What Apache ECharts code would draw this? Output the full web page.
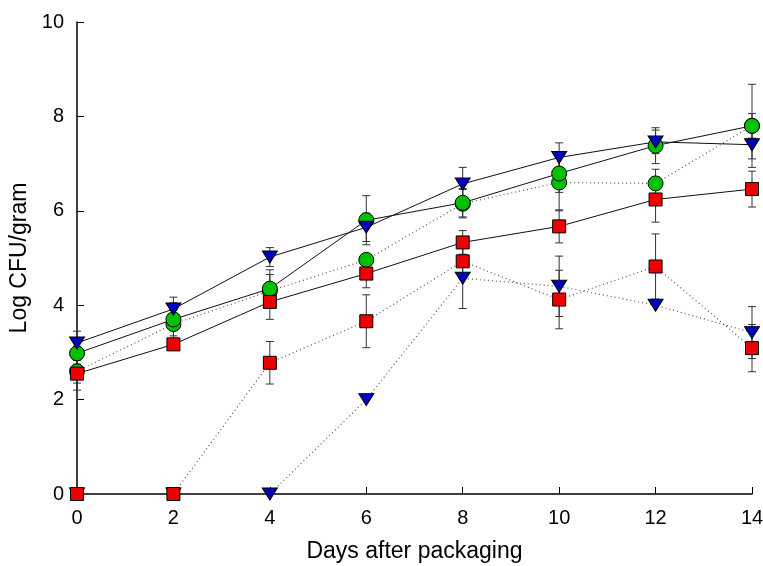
<!DOCTYPE html>
<html>
<head>
<meta charset="utf-8">
<script src="https://cdn.jsdelivr.net/npm/echarts@6/dist/echarts.min.js"></script>
<style>
  html, body { margin: 0; padding: 0; background: #fff; }
  #chart { width: 763px; height: 566px; }
</style>
</head>
<body>
<div id="chart"></div>
<script>
// 采样天数
var days = [0, 2, 4, 6, 8, 10, 12, 14];

// 实线系列
var solidGreen = [2.98, 3.70, 4.35, 5.80, 6.17, 6.79, 7.38, 7.80];
var solidBlue = [3.20, 3.92, 5.02, 5.65, 6.57, 7.13, 7.46, 7.40];
var solidRed = [2.55, 3.17, 4.07, 4.67, 5.33, 5.67, 6.24, 6.46];
// 虚线系列
var dotGreen = [2.60, 3.60, 4.30, 4.96, 6.15, 6.60, 6.58, 7.80];
var dotBlue = [0, 0, 0, 2.00, 4.57, 4.40, 4.00, 3.42];
var dotRed = [0, 0, 2.78, 3.66, 4.93, 4.12, 4.82, 3.09];

// 误差
var errSolidGreen = [0.15, 0.35, 0.40, 0.52, 0.30, 0.40, 0.38, 0.88];
var errSolidBlue = [0.25, 0.25, 0.20, 0.30, 0.35, 0.31, 0.25, 0.30];
var errSolidRed = [0.20, 0.07, 0.37, 0.30, 0.25, 0.35, 0.48, 0.38];
var errDotGreen = [0.40, 0.30, 0.35, 0.10, 0.30, 0.60, 0.30, 0.26];
var errDotBlue = [0, 0, 0, 0, 0.64, 0.64, 0, 0.55];
var errDotRed = [0, 0, 0.45, 0.56, 0.30, 0.62, 0.69, 0.50];

var GREEN = '#00c000', BLUE = '#0000c0', RED = '#ee0000';
var FONT = 'Liberation Sans, Arial, sans-serif';

function pairs(vals) {
    return days.map(function (d, i) { return [d, vals[i]]; });
}

function errData(vals, errs) {
    return days.map(function (d, i) { return [d, vals[i], errs[i]]; });
}

// 误差线
function errorBarItem(params, api) {
    var x = api.value(0), y = api.value(1), e = api.value(2);
    if (!e) return;
    var top = api.coord([x, y + e]);
    var bot = api.coord([x, y - e]);
    var hw = 4;
    var st = { stroke: '#333', lineWidth: 1 };
    return {
        type: 'group',
        children: [
            { type: 'line', shape: { x1: top[0], y1: top[1], x2: bot[0], y2: bot[1] }, style: st },
            { type: 'line', shape: { x1: top[0] - hw, y1: top[1], x2: top[0] + hw, y2: top[1] }, style: st },
            { type: 'line', shape: { x1: bot[0] - hw, y1: bot[1], x2: bot[0] + hw, y2: bot[1] }, style: st }
        ]
    };
}

function errSeries(vals, errs) {
    return {
        type: 'custom',
        renderItem: errorBarItem,
        data: errData(vals, errs),
        z: 1,
        clip: false,
        silent: true
    };
}

function lineSeries(vals, color, symbol, dotted) {
    var s = {
        type: 'line',
        data: pairs(vals),
        symbol: symbol,
        symbolSize: symbol === 'rect' ? 13 : 15,
        symbolRotate: symbol === 'triangle' ? 180 : 0,
        showAllSymbol: true,
        clip: false,
        z: 3,
        itemStyle: { color: color, borderColor: '#000', borderWidth: 1 },
        lineStyle: dotted ?
            { color: '#555', width: 1.2, type: [1, 3] } :
            { color: '#111', width: 1, type: 'solid' },
        emphasis: { disabled: true },
        animation: false
    };
    if (symbol === 'triangle') s.symbolSize = [15, 12];
    return s;
}

var chart = echarts.init(document.getElementById('chart'));
chart.setOption({
    animation: false,
    backgroundColor: '#fff',
    grid: { left: 77, right: 11, top: 22, bottom: 72, outerBoundsMode: 'none' },
    xAxis: {
        type: 'value',
        min: 0, max: 14, interval: 2,
        name: 'Days after packaging',
        nameLocation: 'middle',
        nameGap: 46,
        nameTextStyle: { fontFamily: FONT, fontSize: 23, color: '#000' },
        axisLine: { lineStyle: { color: '#000', width: 1.5 } },
        axisTick: { inside: true, length: 7, lineStyle: { color: '#000' } },
        axisLabel: { margin: 14, fontFamily: FONT, fontSize: 20, color: '#000' },
        splitLine: { show: false }
    },
    yAxis: {
        type: 'value',
        min: 0, max: 10, interval: 2,
        name: 'Log CFU/gram',
        nameLocation: 'middle',
        nameGap: 45,
        nameTextStyle: { fontFamily: FONT, fontSize: 23, color: '#000' },
        axisLine: { show: true, lineStyle: { color: '#000', width: 1.5 } },
        axisTick: { show: true, inside: true, length: 7, lineStyle: { color: '#000' } },
        axisLabel: { margin: 13, fontFamily: FONT, fontSize: 20, color: '#000' },
        splitLine: { show: false }
    },
    series: [
        errSeries(solidGreen, errSolidGreen),
        errSeries(solidBlue, errSolidBlue),
        errSeries(solidRed, errSolidRed),
        errSeries(dotGreen, errDotGreen),
        errSeries(dotBlue, errDotBlue),
        errSeries(dotRed, errDotRed),
        lineSeries(dotGreen, GREEN, 'circle', true),
        lineSeries(dotBlue, BLUE, 'triangle', true),
        lineSeries(dotRed, RED, 'rect', true),
        lineSeries(solidGreen, GREEN, 'circle', false),
        lineSeries(solidBlue, BLUE, 'triangle', false),
        lineSeries(solidRed, RED, 'rect', false)
    ]
});
</script>
</body>
</html>
